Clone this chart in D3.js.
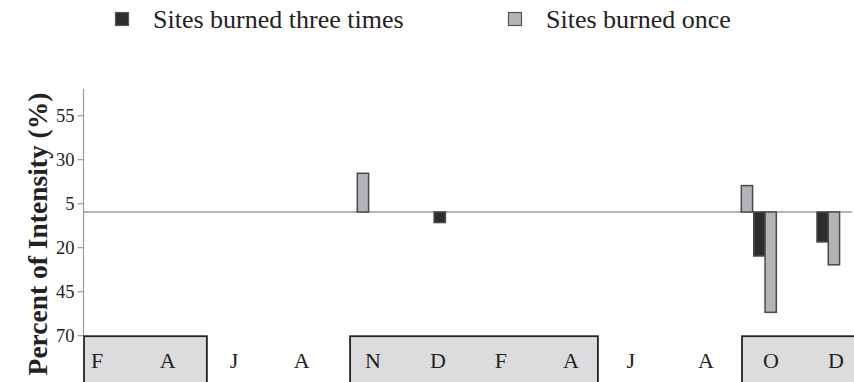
<!DOCTYPE html>
<html><head><meta charset="utf-8">
<script src="https://cdn.jsdelivr.net/npm/d3@7"></script>
<style>
html,body{margin:0;padding:0;background:#fff;}
svg{display:block;font-family:"Liberation Serif","Times New Roman",serif;}
</style></head>
<body><svg id="chart" width="854" height="382"></svg>
<script>
// ---- data ----
const seriesNames = ["Sites burned three times", "Sites burned once"];
const periods = [12.1, 16.0, 29.1, 30.15, 32.95];     // sampling slot (x units)
const threeTimes = [null, -6, null, -25, -17];        // percent change
const once = [22, null, 15, -57, -30];
const yTicks = [55, 30, 5, -20, -45, -70];
const monthLabels = ["F","A","J","A","N","D","F","A","J","A","O","D"];
const monthPos = [0.58, 3.70, 6.64, 9.64, 12.79, 15.67, 18.46, 21.56, 24.21, 27.53, 30.41, 33.29];
const seasonStart = [0, 11.78, 29.13];
const seasonEnd = [5.44, 22.75, 35];

// ---- layout ----
const svg = d3.select("#chart");
const colors = ["#2d2d2d", "#b4b4b8"];
const x = d3.scaleLinear().domain([0, 34]).range([84, 852]);
const y = d3.scaleLinear().domain([-70, 55]).range([335.2, 115.2]);
const barW = (x(1) - x(0)) / 2;

// y axis
const yAxis = d3.axisLeft(y).tickValues(yTicks).tickFormat(d => Math.abs(d)).tickSize(6).tickPadding(3);
const gy = svg.append("g").attr("transform", `translate(${x(0) - 0.5},0)`).call(yAxis);
gy.select(".domain").remove();
gy.append("line").attr("x1", 0).attr("x2", 0).attr("y1", y(70)).attr("y2", y(-70)).attr("stroke", "#9a9a9a").attr("stroke-width", 1.2);
gy.selectAll(".tick line").attr("stroke", "#9a9a9a").attr("stroke-width", 1.2);
gy.selectAll(".tick text").attr("fill", "#222").style("font-size", "18.5px").style("font-family", "Liberation Serif, serif");

// y title
svg.append("text").attr("transform", `translate(47,234) rotate(-90)`)
  .attr("text-anchor", "middle").style("font-size", "27.5px").style("font-weight", "bold").attr("fill", "#222")
  .text("Percent of Intensity (%)");

// zero line
svg.append("line").attr("x1", x(0)).attr("x2", x(34)).attr("y1", y(0)).attr("y2", y(0))
  .attr("stroke", "#9a9a9a").attr("stroke-width", 1.5);

// bars
const bars = [];
periods.forEach((p, i) => {
  if (threeTimes[i] != null) bars.push({p, v: threeTimes[i], s: 0});
  if (once[i] != null) bars.push({p, v: once[i], s: 1});
});
svg.append("g").selectAll("rect").data(bars).join("rect")
  .attr("x", d => x(d.p) - barW + d.s * barW)
  .attr("width", barW)
  .attr("y", d => y(Math.max(0, d.v)))
  .attr("height", d => Math.abs(y(d.v) - y(0)))
  .attr("fill", d => colors[d.s])
  .attr("stroke", "#4a4a4a").attr("stroke-width", 1.5);

// season boxes
svg.append("g").selectAll("rect").data(seasonStart.map((s, i) => [s, seasonEnd[i]])).join("rect")
  .attr("x", d => x(d[0])).attr("width", d => x(d[1]) - x(d[0]))
  .attr("y", y(-70) + 1).attr("height", 60)
  .attr("fill", "#dcdcdf").attr("stroke", "#222").attr("stroke-width", 1.8);

// month labels
svg.append("g").selectAll("text").data(monthLabels).join("text")
  .attr("x", (d, i) => x(monthPos[i])).attr("y", 368)
  .attr("text-anchor", "middle").style("font-size", "22px").attr("fill", "#222")
  .text(d => d);

// legend
const legX = [115, 508];
const leg = svg.append("g").selectAll("g").data(seriesNames).join("g")
  .attr("transform", (d, i) => `translate(${legX[i]},0)`);
leg.append("rect").attr("x", 0.5).attr("y", 12.5).attr("width", 13).attr("height", 13)
  .attr("fill", (d, i) => colors[i]).attr("stroke", "#555").attr("stroke-width", 1.2);
leg.append("text").attr("x", 38).attr("y", 28).style("font-size", "26px").attr("fill", "#222").text(d => d);
</script></body></html>
